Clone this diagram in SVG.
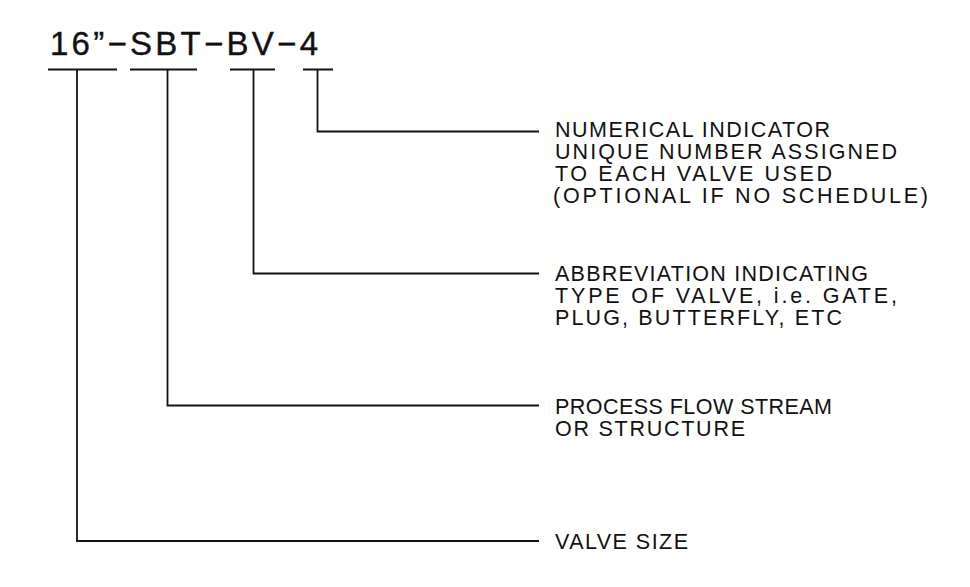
<svg xmlns="http://www.w3.org/2000/svg" width="970" height="587" viewBox="0 0 970 587">
<style>
.t{font-family:"Liberation Sans",Arial,sans-serif;font-size:21.5px;fill:#111}
.h{font-family:"Liberation Sans",Arial,sans-serif;font-size:33px;fill:#111;stroke:#111;stroke-width:0.4}
.ln{stroke:#111;stroke-width:1.8;fill:none}
</style>
<rect width="970" height="587" fill="#fff"/>
<g id="title">
<text class="h" x="50" y="55" textLength="268" lengthAdjust="spacing">16”−SBT−BV−4</text>
</g>
<g id="connectors">
<path class="ln" d="M48,69.5H117M130,69.5H197M230,69.5H275M303,69.5H333"/>
<path class="ln" d="M317.5,69.5V131.5H539"/>
<path class="ln" d="M253.5,69.5V273.5H539"/>
<path class="ln" d="M167.5,69.5V405.5H539"/>
<path class="ln" d="M77,69.5V541H539"/>
</g>
<g id="numerical">
<text class="t" x="555" y="137" textLength="275" lengthAdjust="spacing">NUMERICAL INDICATOR</text>
<text class="t" x="555" y="159" textLength="342" lengthAdjust="spacing">UNIQUE NUMBER ASSIGNED</text>
<text class="t" x="555" y="181" textLength="277" lengthAdjust="spacing">TO EACH VALVE USED</text>
<text class="t" x="553" y="203" textLength="375" lengthAdjust="spacing">(OPTIONAL IF NO SCHEDULE)</text>
</g>
<g id="abbreviation">
<text class="t" x="555" y="281" textLength="313" lengthAdjust="spacing">ABBREVIATION INDICATING</text>
<text class="t" x="555" y="303" textLength="342" lengthAdjust="spacing">TYPE OF VALVE, i.e. GATE,</text>
<text class="t" x="555" y="325" textLength="287" lengthAdjust="spacing">PLUG, BUTTERFLY, ETC</text>
</g>
<g id="process">
<text class="t" x="555" y="414" textLength="277" lengthAdjust="spacing">PROCESS FLOW STREAM</text>
<text class="t" x="555" y="436" textLength="190" lengthAdjust="spacing">OR STRUCTURE</text>
</g>
<g id="size">
<text class="t" x="555" y="549" textLength="133" lengthAdjust="spacing">VALVE SIZE</text>
</g>
</svg>
